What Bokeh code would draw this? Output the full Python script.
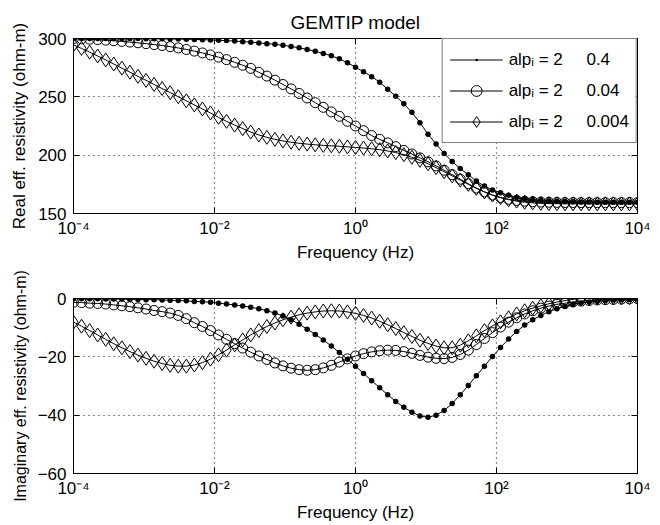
from bokeh.plotting import figure
from bokeh.models import (Range1d, FixedTicker, CustomJSTickFormatter, LogAxis,
                          LinearAxis, Legend, LegendItem)
from bokeh.layouts import column
from bokeh.embed import file_html
from bokeh.resources import INLINE

# ---------------- data ----------------
log_freq = [-4.000, -3.886, -3.771, -3.657, -3.543, -3.429, -3.314, -3.200, -3.086, -2.971,
            -2.857, -2.743, -2.629, -2.514, -2.400, -2.286, -2.171, -2.057, -1.943, -1.829,
            -1.714, -1.600, -1.486, -1.371, -1.257, -1.143, -1.029, -0.914, -0.800, -0.686,
            -0.571, -0.457, -0.343, -0.229, -0.114, 0.000, 0.114, 0.229, 0.343, 0.457,
            0.571, 0.686, 0.800, 0.914, 1.029, 1.143, 1.257, 1.371, 1.486, 1.600,
            1.714, 1.829, 1.943, 2.057, 2.171, 2.286, 2.400, 2.514, 2.629, 2.743,
            2.857, 2.971, 3.086, 3.200, 3.314, 3.429, 3.543, 3.657, 3.771, 3.886, 4.000]

real_a = [300.0, 300.0, 300.0, 300.0, 300.0, 300.0, 300.0, 299.9, 299.9, 299.8,
          299.8, 299.7, 299.6, 299.5, 299.4, 299.2, 299.0, 298.8, 298.5, 298.2,
          297.8, 297.3, 296.8, 296.2, 295.6, 295.0, 294.2, 293.2, 292.0, 290.6,
          289.0, 287.2, 285.2, 282.6, 279.2, 275.4, 271.5, 267.3, 262.6, 256.4,
          250.6, 244.0, 236.7, 227.8, 218.0, 209.5, 201.5, 194.5, 188.5, 183.3,
          177.8, 173.5, 170.2, 167.8, 165.6, 163.8, 162.6, 161.8, 161.2, 160.7,
          160.4, 160.2, 160.0, 159.9, 159.8, 159.7, 159.7, 159.6, 159.6, 159.6, 159.6]

real_b = [300.0, 299.7, 299.4, 299.1, 298.6, 298.1, 297.5, 296.9, 296.3, 295.6,
          294.8, 294.0, 293.0, 291.9, 290.6, 289.2, 287.6, 285.9, 284.0, 281.9,
          279.6, 277.1, 274.4, 271.0, 267.8, 264.3, 260.6, 256.8, 252.9, 249.0,
          245.0, 241.0, 237.1, 233.3, 229.0, 225.0, 221.0, 216.8, 213.6, 210.5,
          207.3, 204.1, 201.0, 197.7, 194.3, 190.8, 187.1, 183.3, 179.4, 175.5,
          171.8, 168.5, 165.8, 163.7, 162.2, 161.2, 160.5, 160.1, 159.8, 159.6,
          159.5, 159.4, 159.4, 159.3, 159.3, 159.3, 159.3, 159.3, 159.3, 159.3, 159.3]

real_c = [294.5, 291.5, 288.3, 285.0, 281.6, 278.1, 274.6, 271.1, 267.6, 264.1,
          260.6, 257.1, 253.6, 250.1, 246.6, 243.1, 239.6, 236.2, 232.4, 229.0,
          225.8, 222.8, 219.8, 217.3, 215.3, 213.6, 212.2, 211.1, 210.2, 209.5,
          208.9, 208.4, 208.0, 207.6, 207.1, 206.6, 206.1, 205.5, 204.7, 203.6,
          202.2, 200.4, 198.2, 195.6, 192.6, 189.3, 185.8, 182.2, 178.6, 175.0,
          171.6, 168.5, 165.8, 163.6, 161.9, 160.6, 159.7, 159.1, 158.7, 158.5,
          158.4, 158.3, 158.3, 158.3, 158.3, 158.3, 158.3, 158.3, 158.3, 158.3, 158.3]

imag_a = [-0.1, -0.1, -0.1, -0.1, -0.2, -0.2, -0.2, -0.3, -0.3, -0.4,
          -0.4, -0.5, -0.6, -0.7, -0.8, -1.0, -1.1, -1.3, -1.6, -1.9,
          -2.2, -2.6, -3.0, -3.5, -4.2, -5.0, -6.0, -7.3, -8.8, -10.5,
          -12.3, -14.2, -16.3, -18.5, -20.8, -23.2, -25.7, -28.2, -30.6, -33.0,
          -35.3, -37.3, -39.0, -40.3, -40.7, -40.0, -38.4, -36.0, -33.0, -29.8,
          -26.5, -23.2, -19.9, -16.8, -13.9, -11.3, -9.1, -7.3, -5.8, -4.5,
          -3.5, -2.7, -2.0, -1.5, -1.2, -0.9, -0.7, -0.5, -0.4, -0.3, -0.2]

imag_b = [-1.3, -1.4, -1.6, -1.7, -1.9, -2.2, -2.5, -2.8, -3.2, -3.6,
          -4.1, -4.5, -5.0, -5.8, -6.9, -8.3, -9.6, -11.0, -12.5, -14.0,
          -15.5, -17.0, -18.4, -19.7, -20.9, -22.1, -23.1, -23.9, -24.4, -24.6,
          -24.4, -23.8, -22.9, -21.8, -20.7, -19.7, -18.9, -18.3, -17.9, -17.7,
          -17.8, -18.2, -18.8, -19.5, -20.1, -20.5, -20.6, -20.2, -19.2, -17.7,
          -15.8, -13.7, -11.7, -9.8, -8.1, -6.6, -5.3, -4.2, -3.3, -2.6,
          -2.0, -1.6, -1.2, -0.9, -0.7, -0.5, -0.4, -0.3, -0.2, -0.1, 0.0]

imag_c = [-8.1, -9.5, -11.0, -12.5, -14.0, -15.5, -16.9, -18.2, -19.4, -20.5,
          -21.5, -22.3, -22.9, -23.2, -23.2, -22.8, -22.0, -20.8, -19.3, -17.7,
          -15.9, -14.2, -12.5, -11.0, -9.6, -8.4, -7.3, -6.4, -5.6, -5.0,
          -4.6, -4.3, -4.2, -4.3, -4.6, -5.1, -5.8, -6.7, -7.8, -9.0,
          -10.3, -11.7, -13.0, -14.3, -15.4, -16.3, -16.9, -16.9, -16.0, -14.5,
          -12.8, -11.0, -9.4, -8.0, -6.6, -5.3, -4.2, -3.3, -2.5, -1.8,
          -1.2, -0.7, -0.3, 0.0, 0.1, 0.2, 0.3, 0.3, 0.3, 0.3, 0.3]

GAP = "\u00a0" * 5
legend_labels = ["alp\u1d62 = 2" + GAP + "0.4",
                 "alp\u1d62 = 2" + GAP + "0.04",
                 "alp\u1d62 = 2" + GAP + "0.004"]
x_ticks = [1e-4, 1e-2, 1e0, 1e2, 1e4]
real_ticks = [150, 200, 250, 300]
imag_ticks = [-60, -40, -20, 0]

freq = [10 ** v for v in log_freq]

# ---------------- styling helpers ----------------
FONT = "Liberation Sans"
FS = "17px"


def sup_formatter():
    return CustomJSTickFormatter(code="""
const m = {'-':'\u207b','0':'\u2070','1':'\u00b9','2':'\u00b2','3':'\u00b3','4':'\u2074',
           '5':'\u2075','6':'\u2076','7':'\u2077','8':'\u2078','9':'\u2079'};
const e = Math.round(Math.log10(tick));
return '10' + String(e).split('').map(c => m[c]).join('');
""")


def style_axis(ax, ticks, hidden=False):
    ax.ticker = FixedTicker(ticks=ticks, minor_ticks=[])
    ax.major_tick_in = 6
    ax.major_tick_out = 0
    ax.minor_tick_in = 0
    ax.minor_tick_out = 0
    ax.major_tick_line_color = "black"
    ax.axis_line_color = "black"
    ax.major_label_text_font = FONT
    ax.major_label_text_color = "black"
    ax.axis_label_text_font = FONT
    ax.axis_label_text_font_size = FS
    ax.axis_label_text_font_style = "normal"
    ax.axis_label_text_color = "black"
    if hidden:
        ax.major_label_text_font_size = "1px"
        ax.major_label_text_alpha = 0
        ax.major_label_standoff = 0
    else:
        ax.major_label_text_font_size = FS
        ax.major_label_standoff = 7


def make_fig(height, btop, bbot, yr, yticks, ylabel, ylabel_size, title=None):
    p = figure(width=660, height=height, x_axis_type="log",
               x_range=Range1d(1e-4, 1e4), y_range=Range1d(*yr),
               output_backend="svg", toolbar_location=None,
               min_border_left=73, min_border_right=23,
               min_border_top=btop, min_border_bottom=bbot,
               title=title)
    p.background_fill_color = "white"
    p.border_fill_color = "white"
    p.outline_line_color = "black"
    p.outline_line_width = 1
    if title:
        p.title.text_font = FONT
        p.title.text_font_size = "19px"
        p.title.text_font_style = "normal"
        p.title.align = "center"
        p.title.text_color = "black"
        p.title.standoff = 11
    xa = p.xaxis[0]
    style_axis(xa, x_ticks)
    xa.formatter = sup_formatter()
    xa.major_label_standoff = 5
    xa.axis_label = "Frequency (Hz)"
    xa.axis_label_standoff = 2
    ya = p.yaxis[0]
    style_axis(ya, yticks)
    ya.axis_label = ylabel
    ya.axis_label_text_font_size = ylabel_size
    ya.axis_label_standoff = 6
    top = LogAxis()
    style_axis(top, x_ticks, hidden=True)
    p.add_layout(top, "above")
    right = LinearAxis()
    style_axis(right, yticks, hidden=True)
    p.add_layout(right, "right")
    for g in (p.xgrid[0], p.ygrid[0]):
        g.grid_line_color = "black"
        g.grid_line_dash = "1 4"
        g.grid_line_width = 1.2
        g.grid_line_alpha = 0.9
    p.xgrid[0].ticker = FixedTicker(ticks=x_ticks, minor_ticks=[])
    p.ygrid[0].ticker = FixedTicker(ticks=yticks, minor_ticks=[])
    return p


def add_series(p, ys):
    out = []
    specs = [dict(marker="dot", size=22, fill_color="black"),
             dict(marker="circle", size=10, fill_color=None),
             dict(marker="diamond", size=14, fill_color=None)]
    for y, sp in zip(ys, specs):
        ln = p.line(freq, y, line_color="black", line_width=1)
        sc = p.scatter(freq, y, marker=sp["marker"], size=sp["size"],
                       line_color="black", line_width=1,
                       fill_color=sp["fill_color"])
        out.append((ln, sc))
    return out


p1 = make_fig(265, 38, 52, (150, 300), real_ticks,
              "Real eff. resistivity (ohm-m)", FS, title="GEMTIP model")
r1 = add_series(p1, [real_a, real_b, real_c])

legend = Legend(items=[LegendItem(label=lab, renderers=[ln, sc])
                       for lab, (ln, sc) in zip(legend_labels, r1)],
                location="top_right")
legend.label_text_font = FONT
legend.label_text_font_size = FS
legend.label_text_color = "black"
legend.glyph_width = 53
legend.glyph_height = 27
legend.label_height = 24
legend.spacing = 4
legend.padding = 7
legend.margin = 0
legend.label_standoff = 6
legend.border_line_color = "black"
legend.border_line_width = 1
legend.background_fill_color = "white"
legend.background_fill_alpha = 1
p1.add_layout(legend)

p2 = make_fig(260, 33, 52, (-60, 0), imag_ticks,
              "Imaginary eff. resistivity (ohm-m)", "16px")
add_series(p2, [imag_a, imag_b, imag_c])

layout = column(p1, p2, spacing=0)
open("out.html", "w", encoding="utf-8").write(file_html(layout, INLINE))
